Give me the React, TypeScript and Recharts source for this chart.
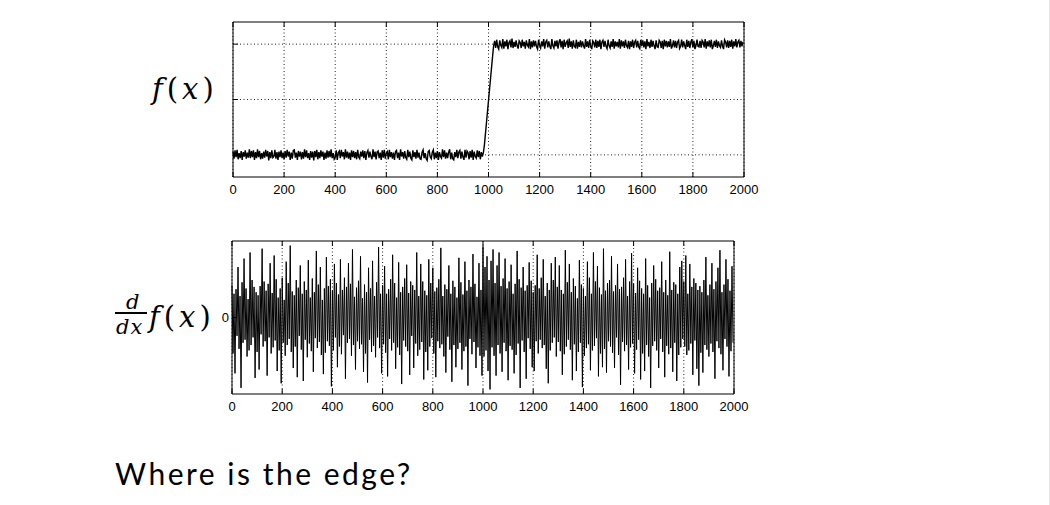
import { LineChart, Line, XAxis, YAxis, CartesianGrid, ReferenceArea } from 'recharts';

// sample spacing along x (one value every STEP units, 0..1996)
const STEP = 4;
const xTicks = [0, 200, 400, 600, 800, 1000, 1200, 1400, 1600, 1800, 2000];
const fTicks = [0, 100, 200];

// f(x), in hundredths: noisy low level, the edge ramp, noisy high level
const fLow = [
  6, -7, 8, -4, 9, -8, 3, -6, 7, -9, 5, -3, 8, -7, 4, -5, 10, -6, 7, -4,
  8, -9, 5, -6, 10, -4, 7, -8, 3, -7, 6, -5, 9, -3, 7, -10, 5, -6, 8, -5,
  -3, 9, -7, 5, -9, 6, -4, 8, -6, 4, -8, 7, -5, 9, -3, 6, -9, 4, -7, 8,
  9, -5, 4, -9, 7, -3, 6, -8, 5, -7, 10, -4, 8, -6, 3, -9, 7, -5, 6, -10,
  7, -4, 9, -8, 5, -6, 8, -3, 6, -9, 4, -7, 8, -5, 7, -4, 10, -6, 3, -8,
  -5, 8, -9, 4, 7, -6, 9, -3, 5, -8, 10, -5, 6, -7, 4, -9, 8, -4, 7, -6,
  5, -8, 9, -4, -7, 6, -3, 8, -6, 7, -9, 4, 8, -5, 6, -3, -8, 10, -4, 6,
  -8, 5, 7, -6, 4, -9, 8, -5, 9, -7, 3, 6, -8, 9, -4, 5, -7, 4, -9, 6,
  8, -6, 4, -9, 10, -3, 5, -7, 7, -5, -8, 9, -4, 6, -6, -9, 8, -4, 5, -7,
  9, -5, 4, -7, -8, 5, 9, -6, 3, -7, -10, 6, 8, -4, -7, 5, 9, -8, 4, -6,
  7, -9, 5, -3, -6, 10, -4, 8, -7, 4, -6, 5, 10, -8, 4, -7, -9, 5, -4, 9,
  -6, 5, 8, -7, 6, -4, -9, 9, -5, 7, 4, -8, 7, -5, 9, -9, 6, -3, -6, 8,
  -4, 7, -8, 5, -3,
];
const fRamp = [4, 18, 38, 58, 78, 98, 118, 138, 158, 178, 197];
const fHigh = [
  206, 193, 208, 195, 191, 207, 198, 194, 209, 192, 205, 196, 208, 191, 203, 206, 194, 210, 193, 204,
  195, 207, 197, 192, 206, 203, 193, 208, 196, 204, 192, 207, 198, 195, 209, 191, 205, 194, 207, 196,
  206, 195, 191, 208, 198, 193, 205, 196, 209, 192, 204, 207, 194, 205, 196, 191, 209, 197, 193, 206,
  196, 207, 192, 204, 209, 194, 206, 191, 208, 195, 203, 206, 193, 210, 195, 205, 192, 207, 196, 194,
  208, 192, 204, 195, 207, 194, 205, 197, 192, 209, 195, 205, 193, 208, 196, 191, 206, 203, 194, 208,
  193, 206, 195, 208, 191, 204, 207, 195, 206, 196, 192, 208, 197, 193, 205, 195, 209, 192, 205, 196,
  204, 194, 209, 192, 207, 196, 205, 193, 208, 197, 194, 206, 191, 205, 195, 208, 193, 204, 207, 194,
  206, 195, 192, 208, 197, 207, 194, 205, 191, 209, 196, 204, 193, 208, 195, 206, 197, 191, 207, 195,
  194, 207, 204, 193, 206, 191, 208, 196, 206, 194, 205, 195, 209, 192, 197, 207, 194, 206, 193, 204,
  207, 192, 196, 208, 194, 205, 197, 191, 208, 195, 206, 193, 204, 209, 194, 206, 191, 197, 208, 196,
  195, 206, 193, 207, 204, 194, 209, 192, 205, 196, 207, 194, 208, 191, 197, 206, 195, 208, 193, 205,
  197, 194, 207, 196, 191, 208, 204, 194, 207, 193, 206, 195, 208, 192, 205, 196, 209, 194, 204, 207,
  194, 206, 196, 204,
];

// d/dx f(x), in hundredths; first half x 0..996, second half x 1000..1996
const dfFirst = [
  42, -47, 31, -73, 37, -24, 66, -41, 28, -92, 46, -33, 77, -29, 38, -51, 24, -43, 85, -36, 49, -26, 40, -79, 33,
  -45, 29, -68, 41, -22, 90, -38, 47, -31, 35, -76, 44, -26, 71, -47, 32, -39, 81, -30, 50, -70, 26, -43, 38, -86,
  52, -33, 23, -50, 73, -36, 45, -28, 94, -45, 34, -66, 29, -38, 49, -78, 39, -24, 68, -42, 31, -83, 47, -29, 36,
  -52, 75, -34, 26, -44, 51, -71, 33, -27, 87, -40, 43, -32, 66, -49, 23, -74, 38, -46, 79, -31, 41, -37, 50, -90,
  35, -43, 70, -26, 45, -65, 30, -38, 76, -48, 36, -23, 52, -80, 40, -33, 71, -28, 44, -50, 89, -36, 27, -68, 39,
  -31, 48, -41, 80, -35, 25, -71, 43, -47, 33, -85, 65, -29, 38, -45, 74, -37, 28, -52, 46, -26, 92, -40, 31, -73,
  42, -35, 67, -46, 31, -77, 37, -28, 50, -43, 82, -33, 45, -67, 26, -39, 72, -49, 33, -87, 40, -30, 51, -38, 69,
  -44, 32, -75, 47, -24, 42, -66, 36, -34, 85, -50, 28, -42, 70, -32, 47, -81, 35, -45, 29, -69, 76, -38, 45, -27,
  65, -47, 34, -78, 39, -31, 50, -40, 91, -35, 28, -51, 43, -72, 37, -25, 68, -42, 31, -84, 48, -36, 40, -65, 26,
  -41, 78, -33, 46, -68, 30, -44, 73, -38, 35, -89, 49, -28, 40, -48, 83, -32, 44, -66, 27, -39, 71, -50, 36, -76,
];
const dfSecond = [
  93, -51, 66, -43, 80, -70, 49, -94, 74, -39, 89, -50, 45, -76, 68, -36, 85, -47, 41, -71, 51, -33, 77, -44, 38,
  -82, 47, -37, 69, -42, 31, -73, 44, -49, 87, -34, 50, -92, 39, -30, 66, -45, 35, -80, 42, -27, 72, -41, 48, -65,
  33, -70, 42, -31, 82, -47, 38, -29, 52, -40, 76, -36, 28, -67, 45, -86, 36, -43, 71, -33, 49, -26, 79, -51, 40,
  -32, 68, -44, 36, -75, 31, -48, 88, -38, 46, -29, 70, -42, 33, -82, 51, -35, 41, -70, 25, -45, 75, -33, 43, -91,
  38, -50, 28, -40, 73, -35, 52, -69, 31, -43, 85, -37, 47, -27, 67, -77, 39, -47, 30, -65, 90, -41, 35, -72, 45,
  -31, 49, -38, 80, -46, 34, -66, 42, -26, 70, -49, 37, -88, 40, -32, 52, -44, 76, -36, 28, -68, 47, -39, 84, -34,
  44, -73, 32, -42, 65, -29, 48, -81, 38, -47, 31, -70, 77, -36, 42, -51, 26, -92, 45, -37, 68, -31, 50, -43, 35,
  -66, 39, -28, 73, -45, 33, -78, 49, -37, 29, -48, 86, -40, 36, -71, 46, -33, 43, -83, 31, -49, 66, -39, 74, -28,
  47, -38, 81, -49, 31, -43, 70, -34, 40, -75, 51, -30, 45, -67, 36, -89, 41, -46, 33, -72, 49, -36, 79, -42, 29,
  -51, 43, -34, 71, -45, 37, -80, 47, -31, 65, -40, 88, -48, 33, -69, 43, -28, 76, -38, 50, -77, 35, -44, 67, -33,
];

const fData = [...fLow, ...fRamp, ...fHigh].map((v, i) => ({ x: i * STEP, y: v }));
const dfData = [...dfFirst, ...dfSecond].map((v, i) => ({ x: i * STEP, y: v }));

const tickFont = { fontSize: 13, fill: '#000', fontFamily: '"Liberation Sans", Arial, sans-serif' };
const mathFont = '"DejaVu Serif", serif';
const noLabel = () => <g />;

const mathStyle = {
  position: 'absolute' as const,
  fontFamily: mathFont,
  color: '#000',
  whiteSpace: 'nowrap' as const,
};

function Fx({ left, top }: { left: number; top: number }) {
  return (
    <div style={{ ...mathStyle, left, top, fontSize: 29, lineHeight: '34px', letterSpacing: 4 }}>
      <i>f</i>(<i>x</i>)
    </div>
  );
}

export default function App() {
  return (
    <div
      style={{
        position: 'absolute',
        left: 0,
        top: 0,
        width: 1049,
        height: 505,
        background: '#fff',
        borderRight: '1px solid #e6e6e6',
        overflow: 'hidden',
      }}
    >
      {/* f(x) */}
      <div style={{ position: 'absolute', left: 0, top: 0 }}>
        <LineChart width={1050} height={200} data={fData} margin={{ top: 21, left: 232, right: 305, bottom: 0 }}>
          <CartesianGrid stroke="#222" strokeDasharray="1 2.5" horizontalValues={fTicks} verticalValues={xTicks} />
          <XAxis
            dataKey="x"
            type="number"
            domain={[0, 2000]}
            ticks={xTicks}
            height={23}
            stroke="#000"
            axisLine={false}
            tickSize={-5}
            tickMargin={13}
            tick={tickFont}
            interval={0}
          />
          <XAxis xAxisId="top" orientation="top" dataKey="x" type="number" domain={[0, 2000]} ticks={xTicks}
            height={1} stroke="#000" axisLine={false} tickSize={-5} tick={noLabel} interval={0} />
          <YAxis type="number" domain={[-40, 240]} ticks={fTicks} width={1} stroke="#000"
            axisLine={false} tickSize={-5} tick={noLabel} interval={0} />
          <YAxis yAxisId="r" orientation="right" type="number" domain={[-40, 240]} ticks={fTicks} width={1}
            stroke="#000" axisLine={false} tickSize={-5} tick={noLabel} interval={0} />
          <ReferenceArea x1={0} x2={2000} y1={-40} y2={240} fill="none" stroke="#000" strokeWidth={1} />
          <Line type="linear" dataKey="y" stroke="#000" strokeWidth={1.4} dot={false} isAnimationActive={false} />
        </LineChart>
      </div>

      {/* d/dx f(x) */}
      <div style={{ position: 'absolute', left: 0, top: 220 }}>
        <LineChart width={1050} height={200} data={dfData} margin={{ top: 20, left: 202, right: 315, bottom: 0 }}>
          <CartesianGrid stroke="#222" strokeDasharray="1 2.5" horizontal={false} verticalValues={xTicks} />
          <XAxis
            dataKey="x"
            type="number"
            domain={[0, 2000]}
            ticks={xTicks}
            height={26}
            stroke="#000"
            axisLine={false}
            tickSize={-5}
            tickMargin={13}
            tick={tickFont}
            interval={0}
          />
          <XAxis xAxisId="top" orientation="top" dataKey="x" type="number" domain={[0, 2000]} ticks={xTicks}
            height={1} stroke="#000" axisLine={false} tickSize={-5} tick={noLabel} interval={0} />
          <YAxis
            type="number"
            domain={[-100, 100]}
            ticks={[0]}
            width={30}
            stroke="#000"
            axisLine={false}
            tickSize={-5}
            tickMargin={8}
            tick={tickFont}
          />
          <YAxis yAxisId="r" orientation="right" type="number" domain={[-100, 100]} ticks={[0]} width={1}
            stroke="#000" axisLine={false} tickSize={-5} tick={noLabel} />
          <ReferenceArea x1={0} x2={2000} y1={-100} y2={100} fill="none" stroke="#000" strokeWidth={1} />
          <Line type="linear" dataKey="y" stroke="#000" strokeWidth={1} dot={false} isAnimationActive={false} />
        </LineChart>
      </div>

      {/* axis labels */}
      <Fx left={152} top={72} />

      <div style={{ ...mathStyle, left: 126, top: 291, fontSize: 21, lineHeight: '22px' }}>
        <i>d</i>
      </div>
      <div style={{ position: 'absolute', left: 115, top: 312, width: 32, height: 1.5, background: '#000' }} />
      <div style={{ ...mathStyle, left: 116, top: 316, fontSize: 21, lineHeight: '22px', letterSpacing: 1 }}>
        <i>dx</i>
      </div>
      <Fx left={149} top={300} />

      <div
        style={{
          position: 'absolute',
          left: 115,
          top: 453,
          fontFamily: 'Lato, "Open Sans", sans-serif',
          fontSize: 30,
          lineHeight: '40px',
          letterSpacing: 2.5,
          color: '#000',
        }}
      >
        Where is the edge?
      </div>
    </div>
  );
}
